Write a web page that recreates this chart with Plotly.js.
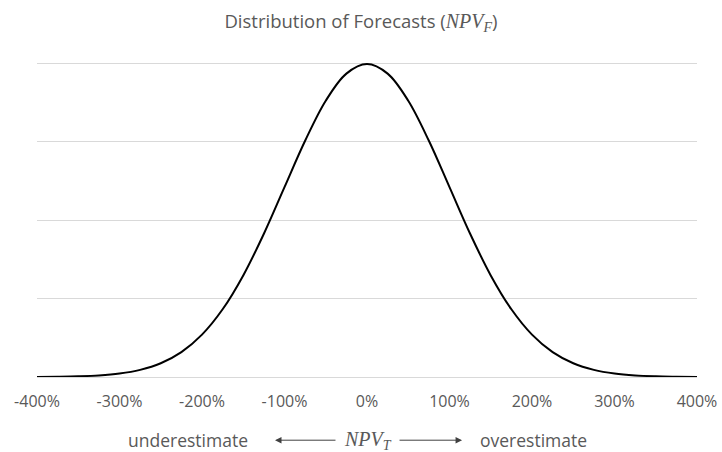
<!DOCTYPE html>
<html>
<head>
<meta charset="utf-8">
<script src="https://cdn.plot.ly/plotly-3.0.1.min.js"></script>
<style>html,body{margin:0;padding:0;background:#fff;}#chart{width:722px;height:452px;}</style>
</head>
<body>
<div id="chart"></div>
<script>
// x positions (as fraction, shown as %) and density
var xValues = [-4,-3.75,-3.5,-3.25,-3,-2.75,-2.5,-2.25,-2,-1.75,-1.5,-1.25,-1,-0.75,-0.5,-0.25,0,
               0.25,0.5,0.75,1,1.25,1.5,1.75,2,2.25,2.5,2.75,3,3.25,3.5,3.75,4];
var density = [0.0001,0.0004,0.0009,0.0020,0.0044,0.0091,0.0175,0.0317,0.0540,0.0863,0.1295,0.1826,0.2420,0.3011,0.3521,0.3867,0.3989,
               0.3867,0.3521,0.3011,0.2420,0.1826,0.1295,0.0863,0.0540,0.0317,0.0175,0.0091,0.0044,0.0020,0.0009,0.0004,0.0001];
var tickVals = [-4,-3,-2,-1,0,1,2,3,4];
var tickLabels = ['-400%','-300%','-200%','-100%','0%','100%','200%','300%','400%'];
var gridVals = [0.1,0.2,0.3,0.4];

var fontFam = '"Open Sans", "Noto Sans", sans-serif';
var mathFam = '"Liberation Serif", "DejaVu Serif", serif';
var gray = '#595959';

var trace = {
  x: xValues, y: density, type: 'scatter', mode: 'lines',
  line: {color: '#000000', width: 2, shape: 'spline', smoothing: 1.0},
  hoverinfo: 'skip'
};

var layout = {
  width: 722, height: 452,
  margin: {l: 37, r: 25, t: 62, b: 75},
  paper_bgcolor: '#ffffff', plot_bgcolor: '#ffffff',
  showlegend: false,
  title: {
    text: 'Distribution of Forecasts (<span style="font-family:' + "'Liberation Serif'" + ';font-size:20px"><i>NPV</i><sub><i>F</i></sub></span>)',
    font: {family: fontFam, size: 18.5, color: gray},
    x: 0.5, xref: 'container', y: 0.953, yref: 'container', yanchor: 'middle'
  },
  xaxis: {
    range: [-4, 4], tickvals: tickVals, ticktext: tickLabels,
    showgrid: false, zeroline: false, showline: true, linecolor: '#d9d9d9', linewidth: 1,
    ticks: '', ticklabelstandoff: 10,
    tickfont: {family: fontFam, size: 16, color: gray}, fixedrange: true
  },
  yaxis: {
    range: [0, 0.4015], tickmode: 'array', tickvals: gridVals,
    showgrid: true, gridcolor: '#d9d9d9', gridwidth: 1,
    zeroline: false, showline: false, showticklabels: false, ticks: '', fixedrange: true
  },
  annotations: [
    {xref: 'paper', yref: 'paper', x: 0.229, y: -0.2006, text: 'underestimate', showarrow: false,
     font: {family: fontFam, size: 17.5, color: gray}, xanchor: 'center', yanchor: 'middle'},
    {xref: 'paper', yref: 'paper', x: 0.752, y: -0.2006, text: 'overestimate', showarrow: false,
     font: {family: fontFam, size: 17.5, color: gray}, xanchor: 'center', yanchor: 'middle'},
    {xref: 'paper', yref: 'paper', x: 0.5015, y: -0.2006, text: '<i>NPV</i><sub><i>T</i></sub>', showarrow: false,
     font: {family: mathFam, size: 20, color: gray}, xanchor: 'center', yanchor: 'middle'},
    {xref: 'paper', yref: 'paper', x: 0.3606, y: -0.2006, text: '', showarrow: true,
     ax: 62, ay: 0, arrowhead: 2, arrowsize: 1.3, arrowwidth: 1, arrowcolor: '#404040'},
    {xref: 'paper', yref: 'paper', x: 0.644, y: -0.2006, text: '', showarrow: true,
     ax: -64, ay: 0, arrowhead: 2, arrowsize: 1.3, arrowwidth: 1, arrowcolor: '#404040'}
  ]
};

Plotly.newPlot('chart', [trace], layout, {displayModeBar: false, staticPlot: true});
</script>
</body>
</html>
